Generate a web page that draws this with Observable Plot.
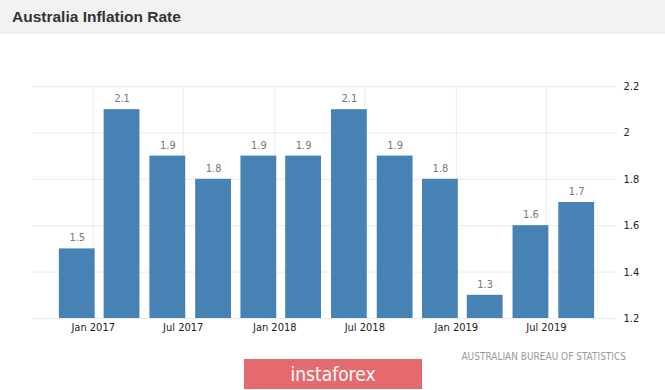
<!DOCTYPE html>
<html>
<head>
<meta charset="utf-8">
<script src="https://cdn.jsdelivr.net/npm/d3@7"></script>
<script src="https://cdn.jsdelivr.net/npm/@observablehq/plot@0.6"></script>
<style>
  html, body { margin: 0; padding: 0; background: #fff; }
  body { width: 665px; height: 390px; position: relative; overflow: hidden; }
  #header { position: absolute; left: 0; top: 0; width: 665px; height: 34px; background: #f2f2f2; }
  #title { position: absolute; left: 12px; top: 8px; font: bold 15.5px/18px "Liberation Sans", Arial, sans-serif; color: #333; white-space: nowrap; }
  #chart { position: absolute; left: 0; top: 34px; }
  #source { position: absolute; right: 39px; top: 351px; font: 10px/12px "DejaVu Sans Condensed", "DejaVu Sans", sans-serif; color: #999; white-space: nowrap; }
  #mark { position: absolute; left: 244px; top: 359px; width: 178px; height: 30px; background: #e46a6d; color: #fff; text-align: center; font: 19px/30px "DejaVu Sans Condensed", "DejaVu Sans", sans-serif; }
</style>
</head>
<body>
<div id="header"><div id="title">Australia Inflation Rate</div></div>
<div id="chart"></div>
<div id="source">AUSTRALIAN BUREAU OF STATISTICS</div>
<div id="mark">instaforex</div>
<script>
const quarters = ["2016-11-30","2017-02-28","2017-05-31","2017-08-31","2017-11-30","2018-02-28","2018-05-31","2018-08-31","2018-11-30","2019-02-28","2019-05-31","2019-08-31"];
const values = [1.5, 2.1, 1.9, 1.8, 1.9, 1.9, 2.1, 1.9, 1.8, 1.3, 1.6, 1.7];
const xTickDates = ["2017-01-01","2017-07-01","2018-01-01","2018-07-01","2019-01-01","2019-07-01"];
const xTickLabels = ["Jan 2017","Jul 2017","Jan 2018","Jul 2018","Jan 2019","Jul 2019"];
const yTicks = [1.2, 1.4, 1.6, 1.8, 2.0, 2.2];
const xDomain = ["2016-09-01","2019-11-21"];

const data = quarters.map((q, i) => ({date: new Date(q), value: values[i]}));
const xt = xTickDates.map(d => new Date(d));
const labelOf = new Map(xt.map((d, i) => [+d, xTickLabels[i]]));
const yMin = yTicks[0];

const chart = Plot.plot({
  width: 665,
  height: 320,
  marginTop: 52,
  marginBottom: 36,
  marginLeft: 32,
  marginRight: 48,
  style: {fontFamily: '"DejaVu Sans Condensed", "DejaVu Sans", sans-serif', fontSize: "11px", color: "#222", background: "transparent"},
  x: {type: "utc", domain: xDomain.map(d => new Date(d)), label: null},
  y: {domain: [yTicks[0], yTicks[yTicks.length - 1]], label: null},
  marks: [
    Plot.ruleY(yTicks, {stroke: "#ebebeb", strokeWidth: 1}),
    Plot.ruleX(xt, {y1: yMin, y2: yTicks[yTicks.length - 1], stroke: "#ebebeb", strokeWidth: 1}),
    Plot.rectY(data, {
      x1: d => d3.utcDay.offset(d.date, -36),
      x2: d => d3.utcDay.offset(d.date, 36),
      y1: yMin,
      y2: "value",
      fill: "#4682b4"
    }),
    Plot.text(data, {x: "date", y: "value", text: d => String(d.value), dy: -11, fill: "#777", fontSize: 11}),
    Plot.axisX(xt, {label: null, tickSize: 0, tickPadding: 5, tickFormat: d => labelOf.get(+d), fill: "#222", fontSize: 11}),
    Plot.axisY(yTicks, {label: null, anchor: "right", tickSize: 0, tickPadding: 6, tickFormat: d => String(d), fill: "#222", fontSize: 11, textAnchor: "start"})
  ]
});
document.getElementById("chart").appendChild(chart);
</script>
</body>
</html>
